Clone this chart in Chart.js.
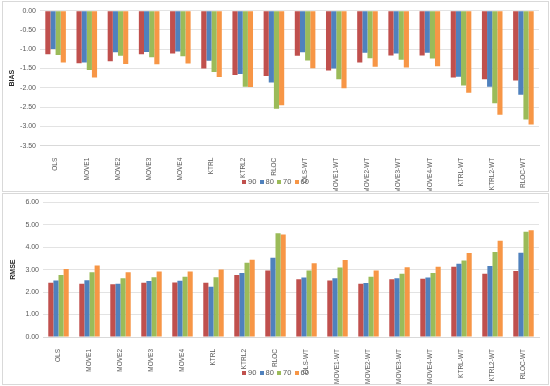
<!DOCTYPE html>
<html>
<head>
<meta charset="utf-8">
<script src="https://cdn.jsdelivr.net/npm/chart.js@4/dist/chart.umd.min.js"></script>
<style>
  body { margin: 0; background: #fff; width: 550px; height: 386px; position: relative; overflow: hidden; }
  .box { position: absolute; left: 2px; width: 545px; border: 1px solid #d9d9d9; background: #fff; }
  #biasBox { top: 1px; height: 189px; }
  #rmseBox { top: 193px; height: 190px; }
  canvas { display: block; }
  .legend { position: absolute; left: 242px; font: 7.5px "Liberation Sans", sans-serif; color: #595959; white-space: nowrap; }
  .legend span { display: inline-block; width: 17.5px; }
  .legend i { display: inline-block; width: 4px; height: 4px; margin-right: 2px; vertical-align: 0px; }
</style>
</head>
<body>
<div class="box" id="biasBox"><canvas id="biasChart" width="545" height="189"></canvas></div>
<div class="box" id="rmseBox"><canvas id="rmseChart" width="545" height="190"></canvas></div>
<div class="legend" id="biasLegend" style="top:177px"></div>
<div class="legend" id="rmseLegend" style="top:368px"></div>
<script>
/* ==========================
   DATA
========================== */
const categories = ["OLS","MOVE1","MOVE2","MOVE3","MOVE4","KTRL","KTRL2","RLOC",
  "OLS-WT","MOVE1-WT","MOVE2-WT","MOVE3-WT","MOVE4-WT","KTRL-WT","KTRL2-WT","RLOC-WT"];
const seriesNames = ["90","80","70","60"];

const bias90 = [-1.13,-1.36,-1.31,-1.13,-1.11,-1.50,-1.67,-1.69,-1.17,-1.55,-1.34,-1.16,-1.16,-1.73,-1.78,-1.81];
const bias80 = [-0.99,-1.34,-1.08,-1.07,-1.06,-1.30,-1.64,-1.86,-1.08,-1.50,-1.09,-1.11,-1.09,-1.71,-1.97,-2.18];
const bias70 = [-1.15,-1.54,-1.17,-1.21,-1.18,-1.59,-1.97,-2.54,-1.29,-1.78,-1.23,-1.27,-1.24,-1.94,-2.40,-2.82];
const bias60 = [-1.34,-1.73,-1.38,-1.39,-1.37,-1.72,-1.98,-2.45,-1.49,-2.01,-1.45,-1.47,-1.44,-2.13,-2.70,-2.95];

const rmse90 = [2.41,2.37,2.35,2.41,2.43,2.41,2.76,2.96,2.57,2.51,2.37,2.57,2.59,3.13,2.81,2.94];
const rmse80 = [2.51,2.53,2.37,2.49,2.50,2.24,2.85,3.53,2.65,2.62,2.40,2.62,2.65,3.26,3.16,3.75];
const rmse70 = [2.76,2.88,2.62,2.66,2.68,2.66,3.31,4.62,2.96,3.09,2.68,2.82,2.85,3.40,3.78,4.69];
const rmse60 = [3.03,3.18,2.88,2.91,2.91,3.01,3.44,4.56,3.28,3.43,2.96,3.10,3.13,3.74,4.28,4.75];

const biasRange = [-3.5, 0, 0.5];
const rmseRange = [0, 6, 1];

const colors = ["#C0504D","#4F81BD","#9BBB59","#F79646"];

/* ==========================
   LEGENDS (html)
========================== */
["biasLegend","rmseLegend"].forEach(id=>{
  const el = document.getElementById(id);
  seriesNames.forEach((n,i)=>{
    const s = document.createElement("span");
    const b = document.createElement("i");
    b.style.background = colors[i];
    s.appendChild(b);
    s.appendChild(document.createTextNode(n));
    el.appendChild(s);
  });
});

// long rotated category names run past the axis box, don't clip them
const noLabelClip = {
  id:'noLabelClip',
  afterLayout(chart){ chart.scales.x._computeLabelArea = () => undefined; }
};

/* ==========================
   CHART BUILDER
========================== */
function makeChart(id, title, series, range, yWidth, area){
  const ctx = document.getElementById(id).getContext("2d");
  const chart = new Chart(ctx,{
    type:'bar',
    plugins:[noLabelClip],
    data:{
      labels:categories,
      datasets:series.map((d,i)=>({
        label:seriesNames[i],
        data:d,
        backgroundColor:colors[i],
        borderWidth:0,
        categoryPercentage:0.66,
        barPercentage:1.0
      }))
    },
    options:{
      responsive:false,
      animation:false,
      layout:{padding:{top:8, right:8, bottom:4, left:0}},
      plugins:{ tooltip:{enabled:false}, legend:{display:false} },
      scales:{
        x:{
          grid:{display:false},
          border:{display:true, color:'#d9d9d9'},
          ticks:{
            minRotation:90, maxRotation:90, autoSkip:false,
            color:'#595959', padding:4,
            font:{family:'Liberation Sans', size:6.5}
          }
        },
        y:{
          min:range[0], max:range[1],
          grid:{color:'#e3e3e3', drawTicks:false},
          border:{display:false},
          ticks:{
            stepSize:range[2], padding:4,
            color:'#595959',
            font:{family:'Liberation Sans', size:7},
            callback:(v)=>v.toFixed(2)
          },
          title:{
            display:true, text:title, color:'#262626', padding:{top:0,bottom:0},
            font:{family:'Liberation Sans', size:7, weight:'bold'}
          },
          afterFit:(s)=>{ s.width = yWidth; }
        }
      }
    }
  });
  // nudge padding so the plot area lands where the reference has it
  for(let k=0;k<3;k++){
    const a = chart.chartArea, p = chart.options.layout.padding;
    p.top += area.top - a.top;
    p.bottom += a.bottom - area.bottom;
    p.left += area.left - a.left;
    p.right += a.right - area.right;
    chart.update();
  }
  return chart;
}

/* ==========================
   BIAS + RMSE
========================== */
makeChart("biasChart","BIAS",[bias90,bias80,bias70,bias60],biasRange,32,
  {top:8.7, bottom:143.7, left:37, right:536});
makeChart("rmseChart","RMSE",[rmse90,rmse80,rmse70,rmse60],rmseRange,34,
  {top:7.3, bottom:143, left:40, right:536});
</script>
</body>
</html>
